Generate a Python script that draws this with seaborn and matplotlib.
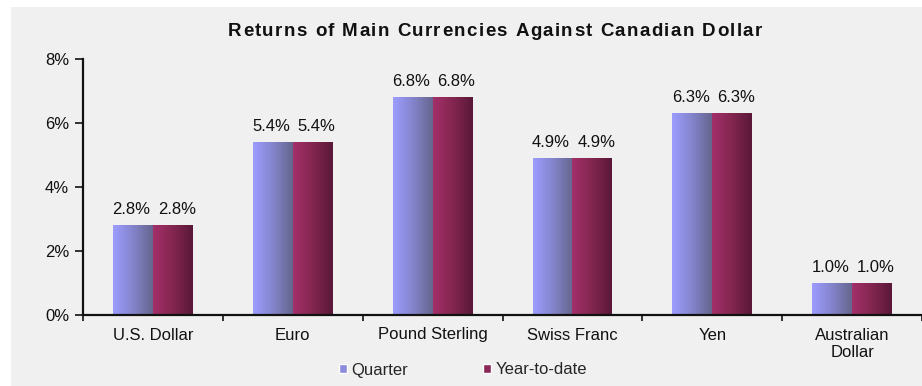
import numpy as np
import pandas as pd
import matplotlib
matplotlib.use("Agg")
import matplotlib.pyplot as plt
from matplotlib.patches import Rectangle
from matplotlib.colors import LinearSegmentedColormap
from matplotlib.font_manager import FontProperties, findfont
from matplotlib.ft2font import FT2Font
import seaborn as sns

categories = ["U.S. Dollar", "Euro", "Pound Sterling", "Swiss Franc", "Yen", "Australian\nDollar"]
quarter = [2.8, 5.4, 6.8, 4.9, 6.3, 1.0]
year_to_date = [2.8, 5.4, 6.8, 4.9, 6.3, 1.0]
series = ["Quarter", "Year-to-date"]
y_ticks = [0, 2, 4, 6, 8]
title = "Returns of Main Currencies Against Canadian Dollar"

df = pd.DataFrame({
    "Currency": categories * 2,
    "Return": quarter + year_to_date,
    "Period": [series[0]] * len(categories) + [series[1]] * len(categories),
})

sns.set_style("white")
plt.rcParams["font.family"] = ["Liberation Sans", "DejaVu Sans"]

DPI = 100
PT = 72 / DPI  # points per pixel
fig = plt.figure(figsize=(9.22, 3.86), dpi=DPI, facecolor="white")
fig.patches.append(Rectangle((11 / 922, 0), 1, 1 - 7 / 386, transform=fig.transFigure,
                             facecolor="#f0f0f0", edgecolor="none", zorder=-10))
ax = fig.add_axes([83 / 922, 1 - 315 / 386, (922 - 83) / 922, 256 / 386])
ax.set_facecolor("#f0f0f0")

base_colors = {"Quarter": "#9999ff", "Year-to-date": "#993366"}
sns.barplot(data=df, x="Currency", y="Return", hue="Period", palette=base_colors,
            width=0.57, gap=0, saturation=1, ax=ax, legend=False, edgecolor="none")

# horizontal shading on each bar, clipped to the bar rectangle
gradients = {
    "Quarter": LinearSegmentedColormap.from_list("q", ["#9c9cff", "#8484cc", "#66668f"]),
    "Year-to-date": LinearSegmentedColormap.from_list("y", ["#a3306a", "#83264f", "#5a1838"]),
}
label_shift = {"Quarter": -1.5, "Year-to-date": 4.0}  # horizontal nudge in pixels
ramp = np.linspace(0, 1, 64).reshape(1, -1)
for container, name in zip(ax.containers, series):
    for bar in container:
        x0, y0 = bar.get_x(), bar.get_y()
        w, h = bar.get_width(), bar.get_height()
        im = ax.imshow(ramp, cmap=gradients[name], aspect="auto",
                       extent=(x0, x0 + w, y0, y0 + h), zorder=bar.get_zorder() + 0.1,
                       interpolation="bilinear")
        im.set_clip_path(bar)
    texts = ax.bar_label(container, labels=[f"{v:.1f}%" for v in container.datavalues],
                         padding=6, fontsize=12, color="#111111")
    for t in texts:
        t.xyann = (label_shift[name] * PT, t.xyann[1])

ax.set_xlim(-0.5, len(categories) - 0.5)
ax.set_ylim(0, 8)
ax.set_yticks(y_ticks)
ax.set_yticklabels([f"{t}%" for t in y_ticks])
ax.set_xticks(range(len(categories)))
ax.set_xticklabels(categories, linespacing=1.2)
ax.set_xlabel("")
ax.set_ylabel("")
ax.tick_params(axis="x", length=0, labelsize=12, pad=9, colors="#111111")
ax.tick_params(axis="y", length=6, width=1.2, labelsize=12, pad=4, colors="#111111",
               direction="out", left=True)
ax.set_xticks(np.arange(-0.5, len(categories), 1), minor=True)
ax.tick_params(axis="x", which="minor", length=4, width=1.2, direction="out", bottom=True,
               color="#111111")
for side in ["top", "right"]:
    ax.spines[side].set_visible(False)
for side in ["left", "bottom"]:
    ax.spines[side].set_color("#111111")
    ax.spines[side].set_linewidth(1.6)

# title with slightly widened letter spacing, placed character by character on one baseline
tsize = 13.5
tprops = FontProperties(family="Liberation Sans", weight="bold", size=tsize)
ft = FT2Font(findfont(tprops))
ft.set_size(tsize, DPI)
base_adv = [ft.load_char(ord(c)).linearHoriAdvance / 65536 for c in title]
title_width = 534
tracking = (title_width - sum(base_adv)) / (len(title) - 1)
x = 495 - title_width / 2
for c, adv in zip(title, base_adv):
    fig.text(x / 922, 1 - 36 / 386, c, ha="left", va="baseline", fontproperties=tprops,
             color="#111111")
    x += adv + tracking

handles = [Rectangle((0, 0), 1, 1, facecolor="#8c8cdd"), Rectangle((0, 0), 1, 1, facecolor="#8a2658")]
fig.legend(handles, series, loc="center", bbox_to_anchor=(463 / 922, 1 - 370 / 386), ncol=2,
           frameon=False, fontsize=12, handlelength=0.5, handleheight=0.5, handletextpad=0.25,
           columnspacing=4.5, borderpad=0, borderaxespad=0)

fig.savefig("out.png", dpi=DPI, facecolor=fig.get_facecolor())
